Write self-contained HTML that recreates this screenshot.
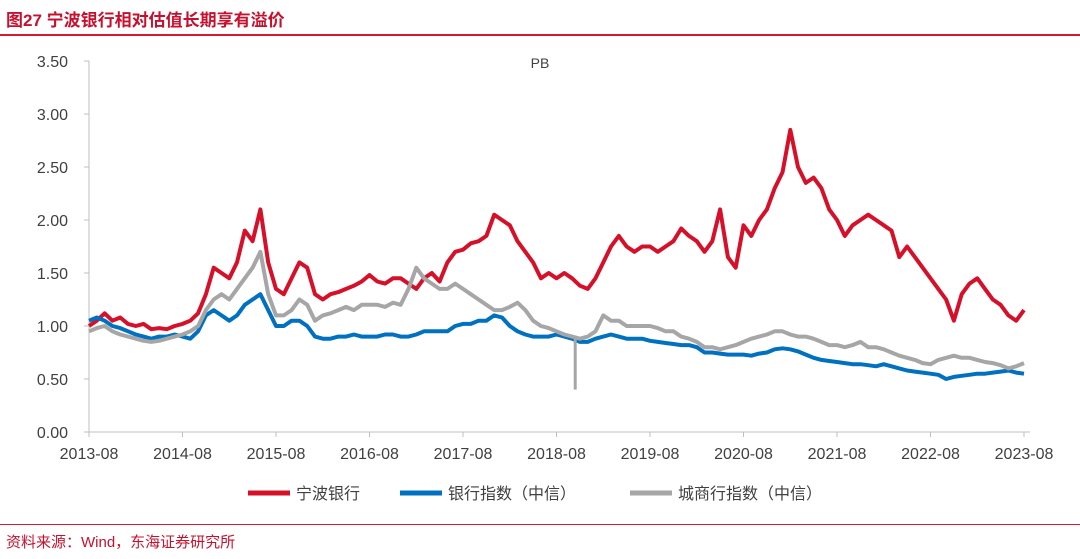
<!DOCTYPE html>
<html><head><meta charset="utf-8">
<style>
body{margin:0;background:#fff;width:1080px;height:559px;overflow:hidden;font-family:"Liberation Sans","Noto Sans CJK SC",sans-serif;}
.title{position:absolute;left:6px;top:6px;font-size:17px;font-weight:bold;color:#c8102e;}
.rule{position:absolute;left:0;width:1080px;height:2px;background:#d7192d;}
.src{position:absolute;left:6px;top:531px;font-size:15px;color:#c8102e;}
svg{position:absolute;left:0;top:0;}
</style></head><body>
<div class="title">图27  宁波银行相对估值长期享有溢价</div>
<div class="rule" style="top:34px"></div>
<div class="rule" style="top:524px;height:1px"></div>
<div class="src">资料来源：Wind，东海证券研究所</div>
<svg id="chart" width="1080" height="559"></svg>
<script>
const yTicks=[0,0.5,1,1.5,2,2.5,3,3.5];
const xLabels=["2013-08","2014-08","2015-08","2016-08","2017-08","2018-08","2019-08","2020-08","2021-08","2022-08","2023-08"];
const ningbo=[1.0,1.05,1.12,1.05,1.08,1.02,1.0,1.02,0.97,0.98,0.97,1.0,
1.02,1.05,1.12,1.3,1.55,1.5,1.45,1.6,1.9,1.8,2.1,1.6,
1.35,1.3,1.45,1.6,1.55,1.3,1.25,1.3,1.32,1.35,1.38,1.42,
1.48,1.42,1.4,1.45,1.45,1.4,1.35,1.45,1.5,1.42,1.6,1.7,
1.72,1.78,1.8,1.85,2.05,2.0,1.95,1.8,1.7,1.6,1.45,1.5,
1.45,1.5,1.45,1.38,1.35,1.45,1.6,1.75,1.85,1.75,1.7,1.75,
1.75,1.7,1.75,1.8,1.92,1.85,1.8,1.7,1.8,2.1,1.65,1.55,
1.95,1.85,2.0,2.1,2.3,2.45,2.85,2.5,2.35,2.4,2.3,2.1,
2.0,1.85,1.95,2.0,2.05,2.0,1.95,1.9,1.65,1.75,1.65,1.55,
1.45,1.35,1.25,1.05,1.3,1.4,1.45,1.35,1.25,1.2,1.1,1.05,1.15];
const bankIdx=[1.05,1.08,1.05,1.0,0.98,0.95,0.92,0.9,0.88,0.9,0.9,0.92,
0.9,0.88,0.95,1.1,1.15,1.1,1.05,1.1,1.2,1.25,1.3,1.15,
1.0,1.0,1.05,1.05,1.0,0.9,0.88,0.88,0.9,0.9,0.92,0.9,
0.9,0.9,0.92,0.92,0.9,0.9,0.92,0.95,0.95,0.95,0.95,1.0,
1.02,1.02,1.05,1.05,1.1,1.08,1.0,0.95,0.92,0.9,0.9,0.9,
0.92,0.9,0.88,0.85,0.85,0.88,0.9,0.92,0.9,0.88,0.88,0.88,
0.86,0.85,0.84,0.83,0.82,0.82,0.8,0.75,0.75,0.74,0.73,0.73,
0.73,0.72,0.74,0.75,0.78,0.79,0.78,0.76,0.73,0.7,0.68,0.67,
0.66,0.65,0.64,0.64,0.63,0.62,0.64,0.62,0.6,0.58,0.57,0.56,
0.55,0.54,0.5,0.52,0.53,0.54,0.55,0.55,0.56,0.57,0.58,0.56,0.55];
const cityIdx=[0.95,0.98,1.0,0.95,0.92,0.9,0.88,0.86,0.85,0.86,0.88,0.9,
0.92,0.95,1.0,1.15,1.25,1.3,1.25,1.35,1.45,1.55,1.7,1.3,
1.1,1.1,1.15,1.25,1.2,1.05,1.1,1.12,1.15,1.18,1.15,1.2,
1.2,1.2,1.18,1.22,1.2,1.35,1.55,1.45,1.4,1.35,1.35,1.4,
1.35,1.3,1.25,1.2,1.15,1.15,1.18,1.22,1.15,1.05,1.0,0.98,
0.95,0.92,0.9,0.88,0.9,0.95,1.1,1.05,1.05,1.0,1.0,1.0,
1.0,0.98,0.95,0.95,0.9,0.88,0.85,0.8,0.8,0.78,0.8,0.82,
0.85,0.88,0.9,0.92,0.95,0.95,0.92,0.9,0.9,0.88,0.85,0.82,
0.82,0.8,0.82,0.85,0.8,0.8,0.78,0.75,0.72,0.7,0.68,0.65,
0.64,0.68,0.7,0.72,0.7,0.7,0.68,0.66,0.65,0.63,0.6,0.62,0.65];
const citySpikeMonth=[62.4];
const citySpikeValue=[0.4];

const NS="http://www.w3.org/2000/svg";
const svg=document.getElementById('chart');
const X0=89,X1=1024,Y0=432,Y1=61;
const xs=m=>X0+m*(X1-X0)/120;
const ys=v=>Y0-v*(Y0-Y1)/3.5;
function mk(t,a){const e=document.createElementNS(NS,t);for(const k in a)e.setAttribute(k,a[k]);svg.appendChild(e);return e;}

const yAxis=mk('line',{x1:X0,y1:Y1,x2:X0,y2:Y0,stroke:'#bfbfbf','stroke-width':1});


const xAxis=mk('line',{x1:X0,y1:Y0,x2:X1+6,y2:Y0,stroke:'#bfbfbf','stroke-width':1});


yTicks.forEach(v=>{
  const tk=mk('line',{x1:X0-5,y1:ys(v),x2:X0,y2:ys(v),stroke:'#bfbfbf'});
  
  
  const t=mk('text',{x:68,y:ys(v)+6,'text-anchor':'end','font-size':16,fill:'#404040'});
  t.textContent=v.toFixed(2);
  
  
});
xLabels.forEach((l,i)=>{
  const x=xs(i*12);
  const tk=mk('line',{x1:x,y1:Y0,x2:x,y2:Y0+5,stroke:'#bfbfbf'});
  
  
  const t=mk('text',{x:x,y:459,'text-anchor':'middle','font-size':16,fill:'#404040'});
  t.textContent=l;
  
  
});
const pb=mk('text',{x:540,y:68,'text-anchor':'middle','font-size':14,fill:'#404040'});
pb.textContent='PB';



function series(arr,color,name){
  const d=arr.map((v,i)=>(i?'L':'M')+xs(i).toFixed(1)+','+ys(v).toFixed(1)).join('');
  const p=mk('path',{d:d,fill:'none',stroke:color,'stroke-width':4,'stroke-linejoin':'round'});
  
  
  return p;
}
series(ningbo,'#d7102a','series-ningbo-bank');
series(bankIdx,'#0070c0','series-bank-index');
series(cityIdx,'#a6a6a6','series-city-bank-index');
citySpikeMonth.forEach((m,i)=>{
  const i0=Math.floor(m),f=m-i0;
  const base=cityIdx[i0]*(1-f)+cityIdx[i0+1]*f;
  const s=mk('line',{x1:xs(m),y1:ys(base),x2:xs(m),y2:ys(citySpikeValue[i]),stroke:'#a6a6a6','stroke-width':3});
  
  
});

const legend=[['宁波银行','#d7102a',248],['银行指数（中信）','#0070c0',400],['城商行指数（中信）','#a6a6a6',630]];
legend.forEach(([t,c,x])=>{
  const l=mk('line',{x1:x,y1:493,x2:x+42,y2:493,stroke:c,'stroke-width':5});
  
  
  const tx=mk('text',{x:x+48,y:499,'font-size':16,fill:'#404040'});
  tx.textContent=t;
  
  
});
</script>
</body></html>
